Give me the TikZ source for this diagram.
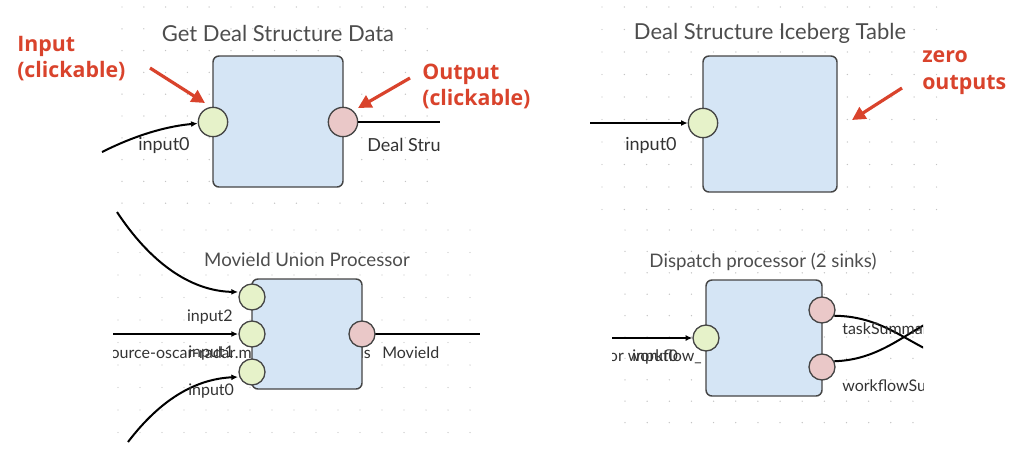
\documentclass[tikz,border=0pt]{standalone}
\usepackage{fontspec}
\setmainfont{Lato}
\newfontfamily\notefont{Open Sans}
\usetikzlibrary{arrows.meta}
\definecolor{boxfill}{HTML}{D5E5F5}
\definecolor{boxline}{HTML}{454545}
\definecolor{infill}{HTML}{E6F2C9}
\definecolor{outfill}{HTML}{EAC8C8}
\definecolor{notered}{HTML}{D9432C}
\definecolor{titlegray}{HTML}{4D4D4D}
\definecolor{labelgray}{HTML}{333333}
\definecolor{dotgray}{HTML}{C4C4C4}
\tikzset{
  procbox/.style={draw=boxline, fill=boxfill, line width=1.1pt, rounded corners=4.5pt, inner sep=0pt},
  inport/.style={circle, draw=boxline, fill=infill, line width=1pt, inner sep=0pt, minimum size=22pt},
  outport/.style={inport, fill=outfill},
  smallport/.style={minimum size=19.5pt},
  title/.style={text=titlegray, inner sep=0pt, font=\fontsize{16.5}{19}\selectfont},
  smalltitle/.style={title, font=\fontsize{14}{17}\selectfont},
  portlabel/.style={text=labelgray, inner sep=0pt, font=\fontsize{13.5}{16}\selectfont},
  smalllabel/.style={portlabel, font=\fontsize{12}{14}\selectfont},
  wire/.style={line width=1.5pt, -{Latex[length=5pt,width=4.5pt]}},
  note/.style={text=notered, inner sep=0pt, align=left, font=\notefont\bfseries\fontsize{16}{20}\selectfont},
  notearrow/.style={draw=notered, line width=2.4pt, -{Triangle[length=10pt,width=10pt]}},
}
\begin{document}
\begin{tikzpicture}[x=0.75pt,y=-0.75pt]
\useasboundingbox (0,0) rectangle (1024,451);
% canvas dots
\foreach \i in {0,...,14} \foreach \j in {0,...,9} \fill[dotgray] (122+\i*21.8,7+\j*21.8) circle (0.55pt);
\foreach \i in {0,...,15} \foreach \j in {0,...,9} \fill[dotgray] (602+\i*22.3,7+\j*22.5) circle (0.55pt);
\foreach \i in {0,...,16} \foreach \j in {0,...,9} \fill[dotgray] (118+\i*22,230+\j*22.5) circle (0.55pt);
\foreach \i in {0,...,13} \foreach \j in {0,...,9} \fill[dotgray] (625+\i*22.15,230+\j*21.4) circle (0.55pt);

% Get Deal Structure Data
\node[title] (tltitle) at (278,33) {Get Deal Structure Data};
\node[procbox, minimum width=97.5pt, minimum height=98.25pt] (tlbox) at (278,121.5) {};
\node[inport] (tlin) at (213,122) {};
\node[outport] (tlout) at (343,122) {};
\node[portlabel, anchor=west] (tlinlbl) at (138,145) {input0};
\node[portlabel, anchor=west] (tloutlbl) at (367,145) {Deal Stru};
\coordinate (tlsrc) at (102,152);
\coordinate (tlsink) at (440,122);
\draw[wire] (tlsrc) .. controls (140,133) and (170,126) .. (tlin);
\draw[line width=1.5pt] (tlout) -- (tlsink);
\node[note, anchor=west] (innote) at (17,58.5) {Input\\(clickable)};
\node[note, anchor=west] (outnote) at (422,86.5) {Output\\(clickable)};
\coordinate (innotetail) at (150,68);
\coordinate (innotetip) at (205,103);
\coordinate (outnotetail) at (410,78);
\coordinate (outnotetip) at (358,108);
\draw[notearrow] (innotetail) -- (innotetip);
\draw[notearrow] (outnotetail) -- (outnotetip);

% Deal Structure Iceberg Table
\node[title] (trtitle) at (770,33) {Deal Structure Iceberg Table};
\node[procbox, minimum width=100.5pt, minimum height=102pt] (trbox) at (770,124) {};
\node[inport] (trin) at (703,123) {};
\node[portlabel, anchor=west] (trinlbl) at (625,145) {input0};
\coordinate (trsrc) at (590,123);
\draw[wire] (trsrc) -- (trin);
\node[note, anchor=west] (zeronote) at (922,72.5) {zero\\outputs};
\coordinate (zeronotetail) at (902,88);
\coordinate (zeronotetip) at (852,120);
\draw[notearrow] (zeronotetail) -- (zeronotetip);

% MovieId Union Processor
\begin{scope}
\clip (113,200) rectangle (480,445);
\node[smalltitle] (bltitle) at (307,260) {MovieId Union Processor};
\node[smalllabel, anchor=east] (blsrclbl) at (252,353) {source-oscar-radar.m};
\node[smalllabel, anchor=east] (blhidlbl) at (371,353) {movieIds};
\node[procbox, minimum width=82.5pt, minimum height=82.5pt] (blbox) at (307,334) {};
\coordinate (blsrc2) at (117,212);
\coordinate (blsrc1) at (113,334);
\coordinate (blsrc0) at (128,442);
\coordinate (blsink) at (480,334);
\draw[wire] (blsrc2) .. controls (150,262) and (190,291) .. (238,292);
\draw[wire] (blsrc1) -- (238,334);
\draw[wire] (blsrc0) .. controls (160,400) and (195,379) .. (238,377);
\draw[line width=1.5pt] (362,334) -- (blsink);
\node[inport, smallport] (blin2) at (252,297) {};
\node[inport, smallport] (blin1) at (252,334) {};
\node[inport, smallport] (blin0) at (252,372) {};
\node[outport, smallport] (blout) at (362,334) {};
\node[smalllabel, anchor=east] (blin2lbl) at (233,317) {input2};
\node[smalllabel, anchor=west] (blin1lbl) at (188,353) {input1};
\node[smalllabel, anchor=west] (blin0lbl) at (188,391) {input0};
\node[smalllabel, anchor=west] (bloutlbl) at (382,353) {MovieId};
\end{scope}

% Dispatch processor (2 sinks)
\begin{scope}
\clip (612,225) rectangle (923,430);
\node[smalltitle] (brtitle) at (763,262) {Dispatch processor (2 sinks)};
\node[smalllabel, anchor=east] (brsrclbl) at (702,357) {processor workflow\_};
\node[procbox, minimum width=87pt, minimum height=87pt] (brbox) at (764,338) {};
\node[inport, smallport] (brin) at (706,338) {};
\node[outport, smallport] (brout1) at (822,310) {};
\node[outport, smallport] (brout2) at (822,367) {};
\coordinate (brsrc) at (612,338);
\coordinate (brtask) at (926,349);
\coordinate (brwf) at (926,324);
\draw[wire] (brsrc) -- (brin);
\draw[line width=1.5pt] (brout1.-25) .. controls (875,316) and (900,336) .. (brtask);
\draw[line width=1.5pt] (brout2.25) .. controls (875,360) and (900,338) .. (brwf);
\node[smalllabel, anchor=west] (brinlbl) at (632,357) {input0};
\node[smalllabel, anchor=west] (brout1lbl) at (842,330) {taskSummary};
\node[smalllabel, anchor=west] (brout2lbl) at (842,387) {workflowSummary};
\end{scope}
\end{tikzpicture}
\end{document}
